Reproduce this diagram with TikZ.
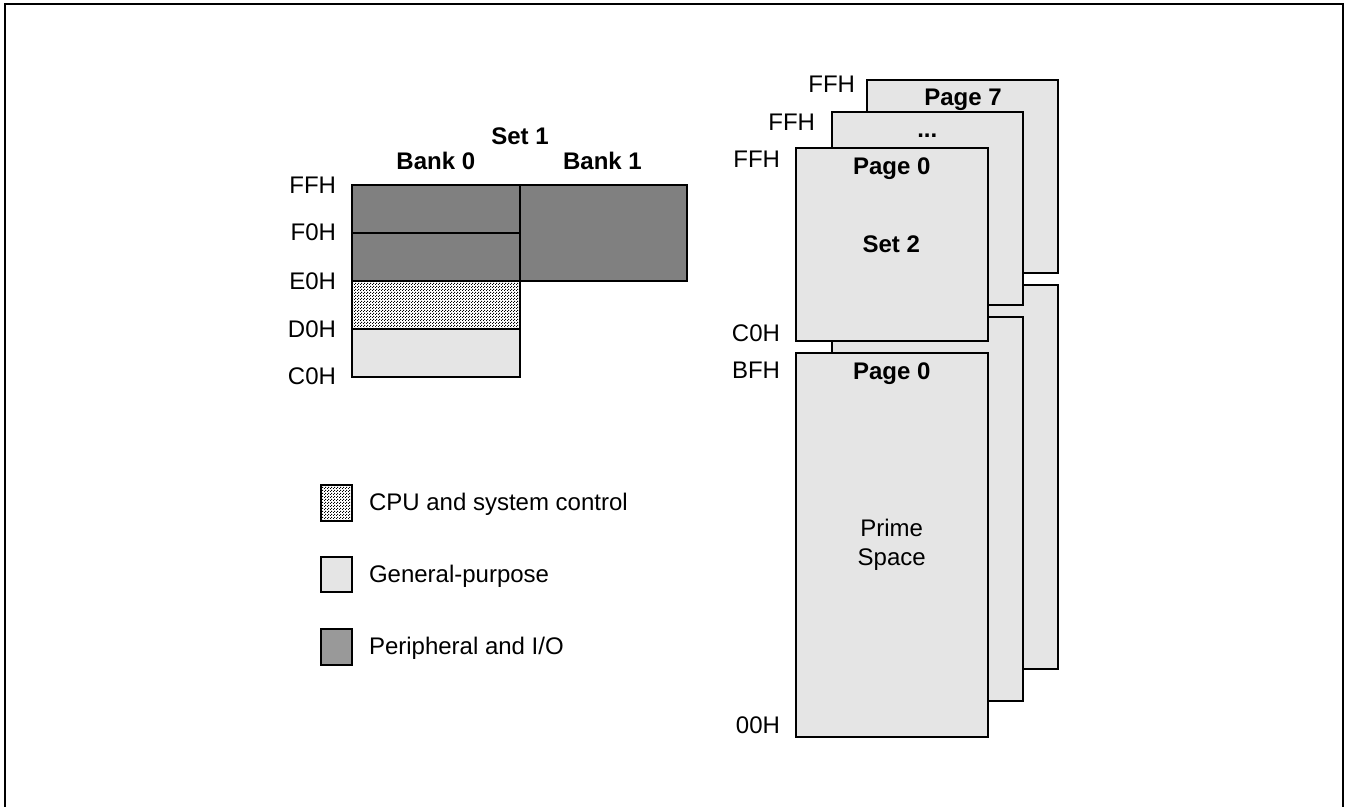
\documentclass[tikz,border=0pt]{standalone}
\usepackage{fontspec}
\setmainfont{Liberation Sans}
\usepackage{tikz}
\usetikzlibrary{patterns}

\definecolor{periph}{gray}{0.5}
\definecolor{periphkey}{gray}{0.6}
\definecolor{general}{gray}{0.9}
\pgfdeclarepatternformonly{stipple}{\pgfpointorigin}{\pgfqpoint{1.5pt}{1.5pt}}{\pgfqpoint{1.5pt}{1.5pt}}{
  \pgfpathrectangle{\pgfpointorigin}{\pgfqpoint{0.6pt}{0.6pt}}
  \pgfpathrectangle{\pgfqpoint{0.75pt}{0.75pt}}{\pgfqpoint{0.6pt}{0.6pt}}
  \pgfusepath{fill}}

\begin{document}
\begin{tikzpicture}[x=0.5pt, y=-0.5pt, line width=1pt,
    every node/.style={inner sep=0pt, font=\fontsize{12}{14.4}\selectfont},
    hdr/.style={anchor=base, font=\fontsize{12}{14.4}\selectfont\bfseries},
    addr/.style={anchor=base east},
    key/.style={anchor=base west},
    cpu/.style={draw, pattern=stipple, pattern color=black},
    gen/.style={draw, fill=general},
    per/.style={draw, fill=periph},
    perkey/.style={draw, fill=periphkey}]
    \useasboundingbox (0,0) rectangle (1350,807);
    \draw (5,840) -- (5,4) -- (1343,4) -- (1343,840);

    \draw[gen] (351.7,329) rectangle (520,376.7);
    \draw[cpu] (351.7,281) rectangle (520,329);
    \draw[per] (351.7,185) rectangle (520,232.7);
    \draw[per] (351.7,232.7) rectangle (520,281);
    \draw[per] (520,185) rectangle (687,281);
    \node[hdr] (set1) at (520,145) {Set 1};
    \node[hdr] (bank0) at (435.8,170) {Bank 0};
    \node[hdr] (bank1) at (602.5,170) {Bank 1};
    \foreach \y/\a in {194/FFH, 240.5/F0H, 289.5/E0H, 337.5/D0H, 384.5/C0H}
        \node[addr] (set1\a) at (337,\y) {\a};

    \foreach \y/\s/\t in {485/cpu/{CPU and system control}, 556.7/gen/General-purpose, 629.3/perkey/{Peripheral and I/O}} {
        \draw[\s] (321,\y) rectangle ++(31.3,35.7);
        \node[key] (key\s) at (368,\y+25.5) {\t};
    }

    \foreach \dx/\dy in {70.7/68, 35.7/36, 0/0} {
        \draw[gen] (796+\dx,148-\dy) rectangle ++(191.7,192.7);
        \draw[gen] (796+\dx,352.7-\dy) rectangle ++(191.7,384.6);
    }
    \node[addr] (ffh7) at (856,92.5) {FFH};
    \node[addr] (ffhn) at (816,131) {FFH};
    \node[addr] (ffh0) at (781,167.5) {FFH};
    \node[addr] (c0h) at (781,341.5) {C0H};
    \node[addr] (bfh) at (781,378.5) {BFH};
    \node[addr] (zeroh) at (781,733.5) {00H};
    \node[hdr] (page7) at (963,106) {Page 7};
    \node[hdr] (pagen) at (927.3,138) {...};
    \node[hdr] (page0) at (891.7,174.3) {Page 0};
    \node[hdr] (set2) at (891.3,252.3) {Set 2};
    \node[hdr] (prime0) at (891.7,379.3) {Page 0};
    \node[align=center] (prime) at (891.7,544.7) {Prime\\Space};
\end{tikzpicture}
\end{document}
